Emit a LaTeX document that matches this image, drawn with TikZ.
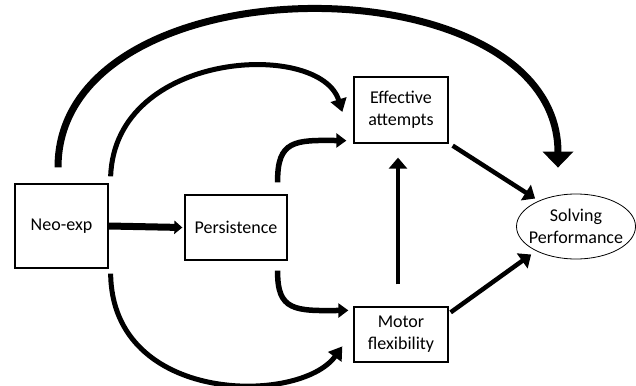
\documentclass[tikz,border=0pt]{standalone}
\usepackage{fontspec}
\setmainfont{Carlito}
\usepackage{tikz}
\usetikzlibrary{shapes,arrows.meta}
\tikzstyle{txt}=[align=center,font=\fontsize{18}{22}\selectfont]
\tikzstyle{box}=[txt,draw,rectangle,line width=1.3pt,inner sep=0pt]
\tikzstyle{oval}=[draw,ellipse,line width=0.8pt,inner sep=0pt]
\tikzstyle{heavy}=[line width=7pt,-{Triangle[width=30pt,length=16pt]}]
\tikzstyle{sweep}=[line width=5pt,-{Triangle[width=16pt,length=13pt]}]
\tikzstyle{hook}=[line width=5.5pt,-{Triangle[width=14pt,length=10pt]}]
\tikzstyle{flat}=[line width=7pt,-{Triangle[width=13pt,length=8pt]}]
\tikzstyle{link}=[line width=4.5pt,-{Triangle[width=18pt,length=11pt]}]

\begin{document}
\begin{tikzpicture}[x=1pt,y=-1pt]
    \useasboundingbox (0,0) rectangle (636,385);
    \node[box,minimum width=93pt,minimum height=84pt] (neo) at (61.5,226) {Neo-exp};
    \node[box,minimum width=102pt,minimum height=65pt] (pers) at (236,227.5) {Persistence};
    \node[box,minimum width=94pt,minimum height=66pt] (eff) at (401,110) {Effective\\attempts};
    \node[box,minimum width=94pt,minimum height=55pt] (motor) at (401,334.5) {Motor\\flexibility};
    \node[oval,minimum width=119pt,minimum height=65pt] (solve) at (576,226.5) {};
    \node[txt] (solvetext) at (solve.center) {Solving\\Performance};
    % paths from Neo-exp
    \draw[heavy] ([xshift=-3.5pt,yshift=16pt]neo.north) .. controls (58,-42) and (558,-42) .. ([xshift=-18pt,yshift=26pt]solve.north);
    \draw[sweep] ([xshift=2pt,yshift=7pt]neo.north east) .. controls (115,50) and (320,40) .. ([xshift=-11pt,yshift=-2pt]eff.west);
    \draw[sweep] ([xshift=2pt,yshift=-5pt]neo.south east) .. controls (112,405) and (300,405) .. ([xshift=-11pt,yshift=-40pt]motor.north west);
    \draw[flat] (neo.east) -- ([xshift=-2pt]pers.west);
    % paths from Persistence
    \draw[hook] ([xshift=-10pt,yshift=12pt]pers.north east) .. controls (277,140) and (295,140) .. ([xshift=-7pt,yshift=3pt]eff.south west);
    \draw[hook] ([xshift=-10pt,yshift=-10pt]pers.south east) .. controls (277,311) and (295,311) .. ([xshift=-5pt,yshift=-4pt]motor.north west);
    % the rest
    \draw[link] ([xshift=-3pt,yshift=22pt]motor.north) -- ([xshift=-3pt,yshift=-14pt]eff.south);
    \draw[link] ([xshift=4pt,yshift=-2pt]eff.south east) -- ([xshift=19pt,yshift=28pt]solve.west);
    \draw[link] ([xshift=2pt,yshift=-6pt]motor.north east) -- ([xshift=15pt,yshift=-28pt]solve.west);
\end{tikzpicture}
\end{document}
